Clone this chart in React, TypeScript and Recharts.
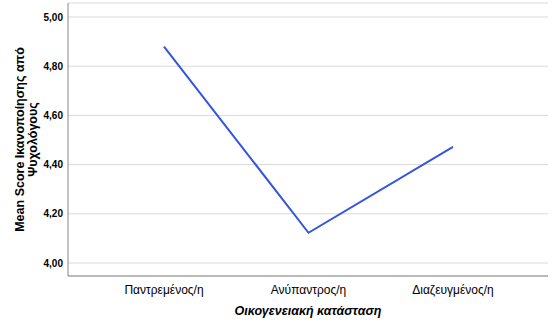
import React from 'react';
import { LineChart, Line, XAxis, YAxis, CartesianGrid, Label } from 'recharts';

const categories = ['Παντρεμένος/η', 'Ανύπαντρος/η', 'Διαζευγμένος/η'];
const meanScores = [4.88, 4.123, 4.472];
const yTicks = [4.0, 4.2, 4.4, 4.6, 4.8, 5.0];
const xTitle = 'Οικογενειακή κατάσταση';
const yTitleLines = ['Mean Score Ικανοποίησης από', 'Ψυχολόγους'];

const data = categories.map((c, i) => ({ category: c, value: meanScores[i] }));

const FONT = 'Arial, "Liberation Sans", sans-serif';

const YTitle = (props: any) => {
  const vb = props.viewBox || {};
  const cy = (vb.y ?? 0) + (vb.height ?? 0) / 2;
  return (
    <text
      transform={`translate(24, ${cy}) rotate(-90)`}
      textAnchor="middle"
      fontFamily={FONT}
      fontWeight="bold"
      fontSize={12.5}
      fill="#000"
    >
      <tspan x={0} y={0}>{yTitleLines[0]}</tspan>
      <tspan x={0} y={13}>{yTitleLines[1]}</tspan>
    </text>
  );
};

const XTitle = (props: any) => {
  const vb = props.viewBox || {};
  const cx = (vb.x ?? 0) + (vb.width ?? 0) / 2;
  return (
    <text
      x={cx}
      y={315}
      textAnchor="middle"
      fontFamily={FONT}
      fontWeight="bold"
      fontStyle="italic"
      fontSize={12.5}
      fill="#000"
    >
      {xTitle}
    </text>
  );
};

export default function App() {
  return (
    <div style={{ position: 'absolute', left: 0, top: 0, background: '#fff' }}>
      <LineChart
        width={556}
        height={327}
        data={data}
        margin={{ top: 3, right: 8, bottom: 21, left: 0 }}
      >
        <CartesianGrid horizontal={true} vertical={false} stroke="#d9d9d9" strokeWidth={1} />
        <XAxis
          dataKey="category"
          height={30}
          padding={{ left: 96, right: 95 }}
          tickLine={false}
          tickSize={6}
          tickMargin={3}
          axisLine={{ stroke: '#888888', strokeWidth: 1 }}
          tick={{ fontFamily: FONT, fontSize: 12, fill: '#000' }}
          interval={0}
        >
          <Label content={<XTitle />} />
        </XAxis>
        <YAxis
          type="number"
          domain={[4, 5]}
          ticks={yTicks}
          width={68}
          padding={{ top: 14, bottom: 13 }}
          tickLine={false}
          tickSize={0}
          tickMargin={5}
          axisLine={{ stroke: '#888888', strokeWidth: 1 }}
          tick={{ fontFamily: FONT, fontSize: 10, fontWeight: 'bold', fill: '#000' }}
          tickFormatter={(v: number) => v.toFixed(2).replace('.', ',')}
        >
          <Label content={<YTitle />} />
        </YAxis>
        <Line
          type="linear"
          dataKey="value"
          stroke="#3355e0"
          strokeWidth={2}
          dot={false}
          activeDot={false}
          isAnimationActive={false}
        />
      </LineChart>
    </div>
  );
}
